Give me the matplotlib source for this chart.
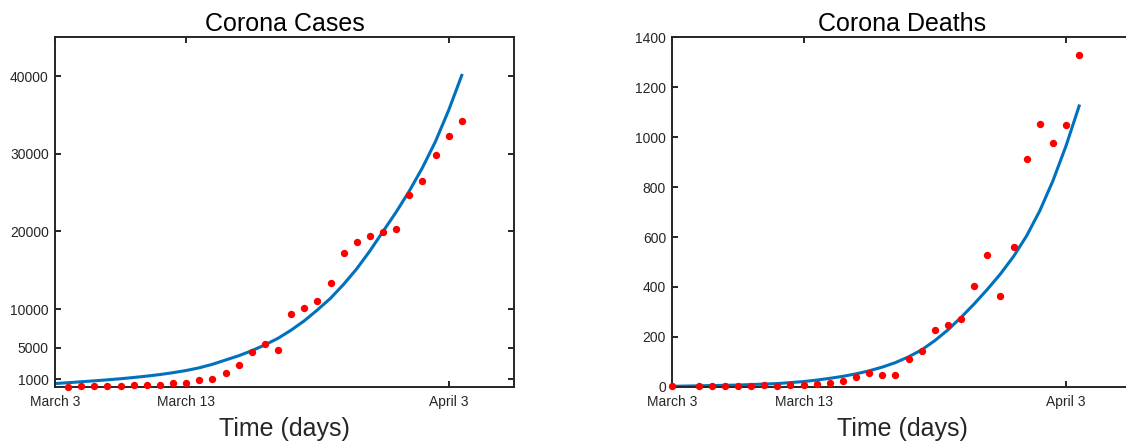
import numpy as np
import matplotlib
matplotlib.use('Agg')
import matplotlib.pyplot as plt

plt.rcParams['font.family'] = ['Liberation Sans', 'DejaVu Sans']

# day index (0 = March 3)
fit_days = list(range(0, 32))

# daily cases, days 1..31
case_days = list(range(1, 32))
cases = [17, 60, 60, 60, 100, 190, 230, 275, 450, 530, 830, 960, 1740, 2810,
         4490, 5520, 4790, 9400, 10200, 11070, 13350, 17220, 18680, 19450,
         19920, 20310, 24740, 26460, 29850, 32300, 34200]
# fitted curve for cases, read at every day 0..31
cases_fit = [420, 530, 650, 770, 900, 1040, 1200, 1380, 1580, 1820, 2100,
             2450, 2900, 3450, 4000, 4650, 5400, 6250, 7300, 8500, 9900,
             11400, 13200, 15200, 17500, 20000, 22500, 25200, 28200, 31600,
             35600, 40100]

# daily deaths (no point on day 1)
death_days = [0] + list(range(2, 32))
deaths = [2.5, 2.5, 4, 2.5, 4, 2.5, 8, 2.5, 6.5, 8, 10.5, 17, 25, 40, 57, 49,
          47, 113, 143, 227, 249, 270, 402, 527, 365, 560, 914, 1051, 976,
          1047, 1331]
deaths_fit = [2, 3, 4, 5, 6, 7, 9, 11, 13, 17, 21, 27, 34, 42, 52, 64, 79, 97,
              120, 148, 185, 228, 278, 332, 390, 452, 522, 605, 705, 825, 965,
              1125]

tick_days = [0, 10, 30]
tick_names = ['March 3', 'March 13', 'April 3']
case_ticks = [1000, 5000, 10000, 20000, 30000, 40000]
death_ticks = list(range(0, 1401, 200))

blue = '#0072BD'
dark = '#262626'

fig = plt.figure(figsize=(11.26, 4.46), dpi=100)
ax1 = fig.add_axes([0.0488, 0.1327, 0.4079, 0.7836])
ax2 = fig.add_axes([0.5971, 0.1327, 0.4079, 0.7836])


def style(ax, title):
    ax.set_xlim(0, 35)
    ax.set_xticks(tick_days)
    ax.set_xticklabels(tick_names)
    ax.tick_params(direction='in', length=4, width=1.4, colors=dark,
                   labelsize=10, top=True, right=True)
    ax.tick_params(axis='x', pad=6)
    ax.tick_params(axis='y', pad=4.5)
    for s in ax.spines.values():
        s.set_linewidth(1.4)
        s.set_color(dark)
    ax.set_title(title, fontsize=18, pad=4.2, color='black')
    ax.set_xlabel('Time (days)', fontsize=18, labelpad=5.5, color=dark)


ax1.plot(fit_days, cases_fit, color=blue, lw=2.2, zorder=2)
ax1.plot(case_days, cases, 'o', color='red', ms=5.3, mec='none',
         clip_on=False, zorder=3)
ax1.set_ylim(0, 45000)
ax1.set_yticks(case_ticks)
style(ax1, 'Corona Cases')

ax2.plot(fit_days, deaths_fit, color=blue, lw=2.2, zorder=2)
ax2.plot(death_days, deaths, 'o', color='red', ms=5.3, mec='none',
         clip_on=False, zorder=3)
ax2.set_ylim(0, 1400)
ax2.set_yticks(death_ticks)
style(ax2, 'Corona Deaths')

fig.savefig('out.png', dpi=100)
